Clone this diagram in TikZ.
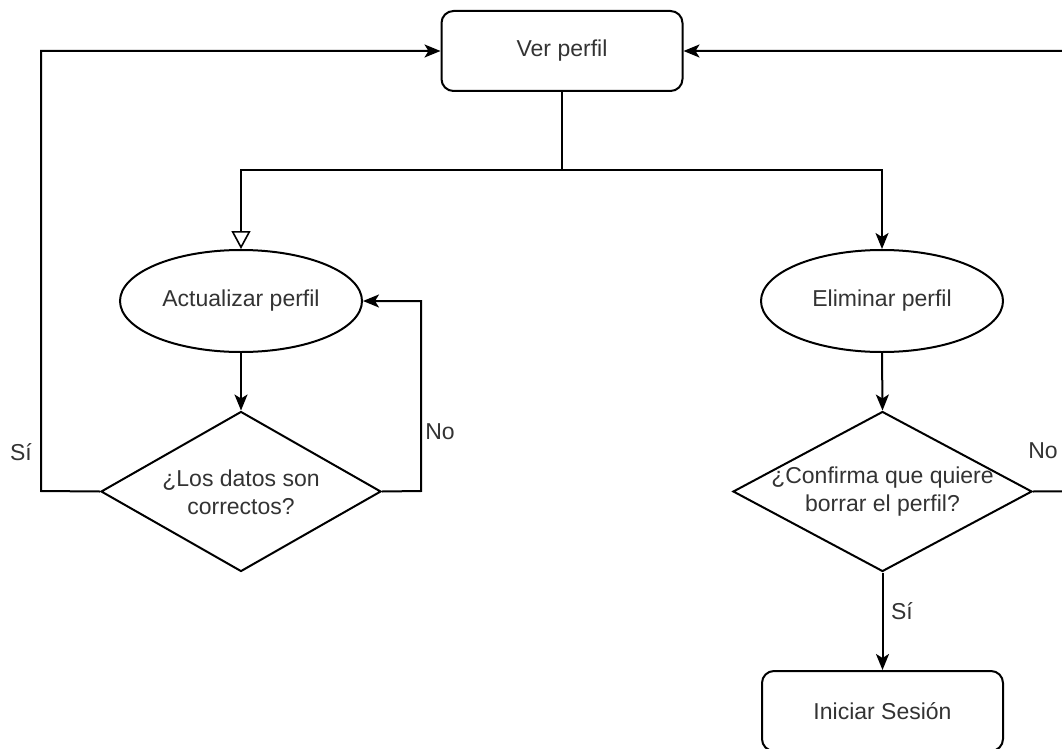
\documentclass[tikz,border=0pt]{standalone}
\usepackage{fontspec}
\setmainfont{Liberation Sans}
\usetikzlibrary{shapes.geometric,arrows.meta}
\definecolor{txt}{HTML}{333333}
\begin{document}
\begin{tikzpicture}[x=1pt,y=-1pt,
  every node/.style={font=\fontsize{23}{28}\selectfont, text=txt},
  proc/.style={draw, line width=2pt, rounded corners=12pt, minimum width=241pt, minimum height=80pt, inner sep=0pt},
  act/.style={draw, line width=2pt, ellipse, minimum width=242pt, minimum height=102pt, inner sep=0pt},
  decision/.style={draw, line width=2pt, diamond, inner sep=0pt},
  qtext/.style={align=center, inner sep=0pt},
  flow/.style={draw, line width=2pt, line join=miter, -{Stealth[length=16pt,width=13pt,inset=4pt]}},
  openflow/.style={draw, line width=2pt, -{Triangle[open,length=18pt,width=19pt,line width=1.6pt]}},
  lbl/.style={inner sep=0pt}]
\clip (0,0) rectangle (1062,749);
\fill[white] (0,0) rectangle (1062,749);

% nodes
\node[proc] (ver) at (562,51) {Ver perfil};
\node[act] (act) at (241,301) {Actualizar perfil};
\node[act] (elim) at (882,301) {Eliminar perfil};
\node[decision, minimum width=280pt, minimum height=160pt] (datos) at (241,491.5) {};
\node[qtext] (datostxt) at (241,492) {¿Los datos son\\correctos?};
\node[decision, minimum width=299pt, minimum height=160pt] (conf) at (882.5,491.5) {};
\node[qtext] (conftxt) at (882.5,492) {¿Confirma que quiere\\borrar el perfil?};
\node[proc] (ini) at (882.5,711) {Iniciar Sesión};

% junction below "Ver perfil"
\coordinate (j) at (562,170);
\coordinate (leftrail) at (41,491);
\coordinate (rightrail) at (1090,491);
\coordinate (noloop) at (421,491);

% connectors
\draw[line width=2pt] (ver.south) -- (j);
\draw[openflow] (j) -| (act.north);
\draw[flow] (j) -| (elim.north);
\draw[flow] (act.south) -- (datos.north);
\draw[flow] (elim.south) -- (conf.north);
\draw[flow] (datos.west) -- (leftrail) |- (ver.west);
\draw[flow] (datos.east) -- (noloop) |- (act.east);
\draw[flow] (conf.east) -- (rightrail) |- (ver.east);
\draw[flow] (conf.south) -- (ini.north);

% branch labels
\node[lbl] (si1) at (21,452) {Sí};
\node[lbl] (no1) at (440,432) {No};
\node[lbl] (no2) at (1043,451) {No};
\node[lbl] (si2) at (902,611) {Sí};
\end{tikzpicture}
\end{document}
